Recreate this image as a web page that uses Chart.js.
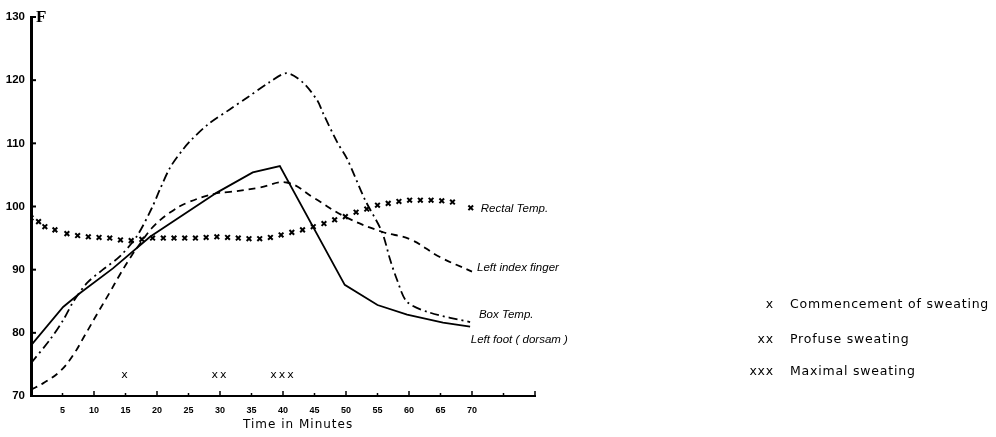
<!DOCTYPE html>
<html>
<head>
<meta charset="utf-8">
<script src="https://cdn.jsdelivr.net/npm/chart.js@4"></script>
<style>
  body { margin: 0; background: #fff; }
  #wrap { width: 996px; height: 437px; position: relative; }
</style>
</head>
<body>
<div id="wrap"><canvas id="chart"></canvas></div>
<script>
// tick labels
const yTicks = [70, 80, 90, 100, 110, 120, 130];
const xTicks = [5, 10, 15, 20, 25, 30, 35, 40, 45, 50, 55, 60, 65, 70];

// Left foot (dorsam) - solid
const footTimes = [0, 5.1, 7.8, 13, 18.9, 29.5, 35.2, 39.5, 49.8, 55, 59.7, 65.4, 69.7];
const footTemps = [78, 84.1, 86.3, 90.2, 95.2, 102.2, 105.4, 106.4, 87.6, 84.4, 82.9, 81.6, 81];

// Left index finger - dashed
const fingerTimes = [0, 1.9, 4.6, 6.7, 8.6, 10.5, 12.5, 14.1, 15.7, 17.3, 19.4, 22, 24.8, 29.5, 31.6, 36.3, 40.6, 45, 49.8, 55.7, 60.2, 64.9, 70];
const fingerTemps = [71, 72, 73.9, 76.5, 79.7, 83, 86.4, 89.2, 91.8, 94.1, 96.8, 99, 100.6, 102.1, 102.3, 103, 103.8, 101.3, 98.4, 96, 94.8, 92, 89.7];

// Box temp - dash dot
const boxTimes = [0, 3, 5.1, 6.7, 8.9, 11.4, 14.1, 16.8, 19.2, 20.5, 22.1, 24.1, 25.5, 28.1, 31.6, 34.4, 37.9, 40.6, 43.2, 45.5, 46.3, 48.6, 50.2, 53, 55.7, 57, 58.1, 59.7, 63.3, 69.7];
const boxTemps = [75.2, 78.9, 82, 84.9, 87.9, 90, 92.1, 95.3, 99.8, 102.8, 106.2, 109, 110.6, 113, 115.4, 117.3, 119.7, 121.1, 119.6, 116.7, 114.9, 110.2, 107.5, 101.1, 96, 91.6, 88.4, 84.9, 83.2, 81.7];

// Rectal temp - x marks
const rectalTimes = [0, 1.2, 2.2, 3.8, 5.7, 7.4, 9.1, 10.8, 12.5, 14.2, 15.9, 17.6, 19.3, 21, 22.7, 24.4, 26.1, 27.8, 29.5, 31.2, 32.9, 34.6, 36.3, 38, 39.7, 41.4, 43.1, 44.8, 46.5, 48.2, 49.9, 51.6, 53.3, 55, 56.7, 58.4, 60.1, 61.8, 63.5, 65.2, 66.9, 69.8];
const rectalTemps = [98.2, 97.6, 96.8, 96.3, 95.7, 95.4, 95.2, 95.1, 95, 94.7, 94.6, 94.8, 95, 95, 95, 95, 95, 95.1, 95.2, 95.1, 95, 94.9, 94.9, 95.1, 95.5, 95.9, 96.3, 96.8, 97.3, 97.9, 98.4, 99.1, 99.6, 100.2, 100.5, 100.8, 101, 101, 101, 100.9, 100.7, 99.8];

// sweating marks under the curves
const sweatTimes = [15, 30, 40];
const sweatMarks = ['x', 'xx', 'xxx'];
const sweatLevel = 73.3;

// curve names written at the right end
const curveNames = ['Rectal Temp.', 'Left index finger', 'Box Temp.', 'Left foot ( dorsam )'];
const curveNameAt = [[71.4, 99.7], [70.8, 90.3], [71.1, 82.9], [69.8, 78.9]];

// key on the right
const keyMarks = ['x', 'xx', 'xxx'];
const keyTexts = ['Commencement of sweating', 'Profuse sweating', 'Maximal sweating'];

const pts = (xs, ys) => xs.map((x, i) => ({ x: x, y: ys[i] }));

const extras = {
  id: 'extras',
  afterDraw(chart) {
    const c = chart.ctx;
    const xs = chart.scales.x, ys = chart.scales.y;
    const left = chart.chartArea.left, bottom = chart.chartArea.bottom;
    c.save();
    c.strokeStyle = '#000';
    c.fillStyle = '#000';
    // inward tick marks
    c.lineWidth = 2;
    yTicks.forEach(v => {
      const y = ys.getPixelForValue(v);
      c.beginPath(); c.moveTo(left, y); c.lineTo(left + 5, y); c.stroke();
    });
    c.lineWidth = 1.5;
    xTicks.concat([75, 80]).forEach(v => {
      const x = xs.getPixelForValue(v);
      const h = v % 10 == 0 ? 5 : 3;
      c.beginPath(); c.moveTo(x, bottom); c.lineTo(x, bottom - h); c.stroke();
    });

    // F unit
    c.font = 'bold 17px "Liberation Serif"';
    c.textBaseline = 'middle';
    c.fillText('F', left + 5, ys.getPixelForValue(130) + 1);

    // sweating marks
    c.font = '11px "DejaVu Sans"';
    c.letterSpacing = '2px';
    c.textAlign = 'center';
    sweatTimes.forEach((t, i) => {
      c.fillText(sweatMarks[i], xs.getPixelForValue(t), ys.getPixelForValue(sweatLevel));
    });

    // curve names
    c.letterSpacing = '0px';
    c.textAlign = 'left';
    c.font = 'italic 11.5px "Liberation Sans"';
    curveNames.forEach((n, i) => {
      c.fillText(n, xs.getPixelForValue(curveNameAt[i][0]), ys.getPixelForValue(curveNameAt[i][1]));
    });

    // axis title
    c.font = '12px "DejaVu Sans"';
    c.letterSpacing = '1px';
    c.textAlign = 'center';
    c.fillText('Time in Minutes', xs.getPixelForValue(42.4), 425);

    // key
    c.font = '12.5px "DejaVu Sans"';
    c.letterSpacing = '0.8px';
    keyTexts.forEach((t, i) => {
      const y = [305, 340, 372][i];
      c.textAlign = 'right';
      c.fillText(keyMarks[i], 774, y);
      c.textAlign = 'left';
      c.fillText(t, 790, y);
    });
    c.restore();
  }
};

new Chart(document.getElementById('chart'), {
  type: 'line',
  data: {
    datasets: [
      {
        label: 'Left foot (dorsam)',
        data: pts(footTimes, footTemps),
        borderColor: '#000', borderWidth: 1.8,
        pointRadius: 0, tension: 0
      },
      {
        label: 'Left index finger',
        data: pts(fingerTimes, fingerTemps),
        borderColor: '#000', borderWidth: 1.8, borderDash: [7, 5],
        pointRadius: 0, tension: 0.4
      },
      {
        label: 'Box Temp.',
        data: pts(boxTimes, boxTemps),
        borderColor: '#000', borderWidth: 1.8, borderDash: [9, 4, 2, 4],
        pointRadius: 0, tension: 0.3
      },
      {
        label: 'Rectal Temp.',
        data: pts(rectalTimes, rectalTemps),
        showLine: false,
        pointStyle: 'crossRot', pointRadius: 3.3, borderWidth: 2,
        borderColor: '#000', pointBorderColor: '#000'
      }
    ]
  },
  options: {
    responsive: true,
    maintainAspectRatio: false,
    animation: false,
    layout: { padding: { top: 17, right: 461, left: 0, bottom: 0 } },
    plugins: { legend: { display: false }, tooltip: { enabled: false } },
    scales: {
      x: {
        type: 'linear', min: 0, max: 80,
        afterFit: s => { s.height = 41; },
        afterBuildTicks: s => { s.ticks = xTicks.map(v => ({ value: v })); },
        grid: { display: false, drawTicks: false },
        border: { display: true, color: '#000', width: 2 },
        ticks: { color: '#000', padding: 9, maxRotation: 0, autoSkip: false,
                 font: { family: 'Liberation Sans', weight: 'bold', size: 9 } }
      },
      y: {
        min: 70, max: 130,
        afterFit: s => { s.width = 31; },
        afterBuildTicks: s => { s.ticks = yTicks.map(v => ({ value: v })); },
        grid: { display: false, drawTicks: false },
        border: { display: true, color: '#000', width: 3 },
        ticks: { color: '#000', padding: 6,
                 font: { family: 'Liberation Sans', weight: 'bold', size: 11.5 } }
      }
    }
  },
  plugins: [extras]
});
</script>
</body>
</html>
